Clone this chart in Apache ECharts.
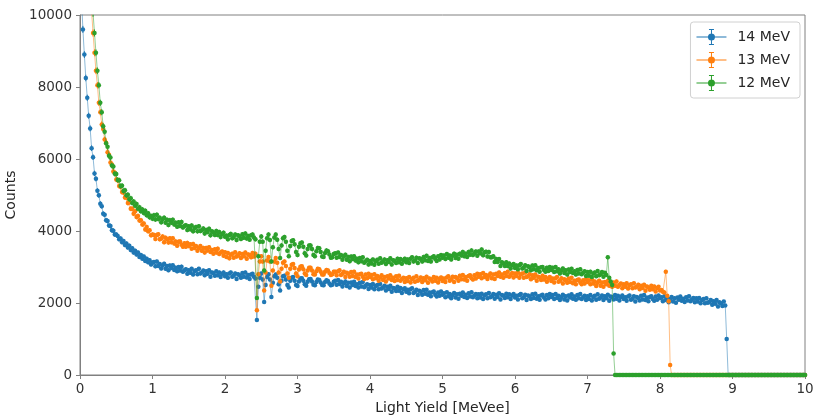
<!DOCTYPE html>
<html>
<head>
<meta charset="utf-8">
<script src="https://cdn.jsdelivr.net/npm/echarts@6/dist/echarts.min.js"></script>
<style>
html,body{margin:0;padding:0;background:#fff;}
#chart{width:814px;height:417px;}
</style>
</head>
<body>
<div id="chart"></div>
<script>
// Histogram bin width (MeVee); bin i is centred at (i+1)*binWidth
const binWidth = 0.02;
const seriesNames = ['14 MeV', '13 MeV', '12 MeV'];
const xTicks = [0, 1, 2, 3, 4, 5, 6, 7, 8, 9, 10];
const yTicks = [0, 2000, 4000, 6000, 8000, 10000];

const counts14 = [
 10500,9600,8900,8250,7700,7200,6850,6300,6050,5600,5450,5120,4990,4760,4690,4480,4450,4300,4280,4150,4140,4020,4010,3900,3900,
 3860,3770,3790,3690,3720,3610,3650,3540,3590,3470,3520,3400,3450,3350,3400,3280,3330,3230,3290,3170,3230,3130,3190,3070,3120,
 3140,3020,3150,3030,3080,2960,3040,3090,2950,3030,2910,3040,2970,3050,2920,2980,2880,3000,2900,3010,2870,2910,2940,2810,2910,
 2840,2950,2790,2890,2910,2800,2950,2820,2850,2900,2770,2880,2810,2910,2730,2850,2830,2760,2880,2770,2850,2720,2810,2850,2740,
 2800,2700,2820,2850,2730,2760,2820,2670,2800,2770,2700,2830,2730,2850,2710,2780,2670,2790,2810,2730,2680,1530,2450,2700,2820,
 2650,2030,2500,2720,2800,2650,2170,2560,2740,2790,2700,2520,2350,2620,2740,2760,2650,2500,2430,2620,2700,2720,2620,2500,2470,
 2600,2680,2690,2620,2520,2480,2590,2660,2670,2600,2510,2490,2580,2650,2640,2570,2500,2490,2580,2630,2610,2540,2490,2510,2590,
 2620,2510,2640,2530,2590,2460,2550,2600,2470,2560,2430,2570,2500,2590,2470,2520,2430,2560,2460,2580,2440,2480,2520,2390,2500,
 2430,2530,2380,2470,2500,2380,2530,2400,2430,2480,2350,2450,2390,2480,2310,2420,2400,2330,2450,2340,2420,2280,2380,2410,2310,
 2370,2270,2380,2410,2280,2310,2370,2220,2340,2310,2230,2360,2260,2370,2230,2290,2190,2300,2320,2230,2180,2290,2200,2320,2230,
 2270,2160,2300,2190,2250,2130,2220,2280,2150,2240,2120,2260,2200,2290,2170,2230,2140,2270,2180,2300,2160,2210,2250,2130,2240,
 2150,2260,2110,2210,2240,2130,2280,2160,2190,2250,2120,2230,2170,2270,2100,2220,2200,2140,2260,2160,2240,2110,2210,2250,2150,
 2200,2100,2220,2250,2130,2160,2230,2080,2210,2180,2110,2240,2140,2260,2120,2190,2090,2210,2230,2150,2100,2220,2130,2250,2170,
 2220,2110,2250,2140,2200,2080,2170,2230,2100,2190,2070,2210,2150,2240,2120,2180,2090,2220,2130,2250,2110,2160,2200,2080,2190,
 2110,2220,2070,2170,2200,2090,2240,2120,2150,2210,2080,2190,2130,2230,2060,2180,2160,2100,2220,2120,2200,2070,2170,2210,2110,
 2160,2060,2180,2210,2090,2120,2190,2040,2170,2140,2070,2200,2100,2220,2080,2150,2050,2170,2190,2110,2060,2180,2090,2210,2130,
 2160,2050,2190,2080,2140,2020,2110,2170,2040,2130,2010,2150,2090,2180,2060,2120,2030,2160,2070,2190,2050,2100,2140,2020,2130,
 2040,2140,1990,2080,2110,1990,2130,2010,2030,2080,1950,2050,1980,2080,1900,2020,1990,1920,2040,1930,1000,0,0,0,0,
 0,0,0,0,0,0,0,0,0,0,0,0,0,0,0,0,0,0,0,0,0,0,0,0,0,
 0,0,0,0,0,0,0,0,0,0,0,0,0,0,0,0,0,0,0,0,0,0,0,0,0
];

const counts13 = [
 16000,15000,14000,13000,12200,11400,10800,10100,9500,8950,8450,8050,7560,7300,6960,6830,6540,6450,6190,6120,5900,5850,5650,5620,5430,
 5410,5250,5230,5080,5070,4930,4930,4780,4800,4620,4620,4480,4550,4390,4420,4290,4300,4180,4210,4040,4110,3990,4020,3880,3900,
 3890,3780,3890,3910,3770,3790,3850,3690,3810,3770,3680,3800,3690,3800,3650,3710,3590,3700,3710,3620,3560,3660,3560,3670,3580,
 3630,3510,3640,3530,3580,3450,3530,3580,3450,3530,3400,3530,3460,3550,3420,3470,3370,3490,3400,3510,3360,3400,3430,3310,3410,
 3280,3390,3240,3340,3370,3260,3410,3290,3320,3380,3250,3360,3300,3400,3230,3350,3330,3270,3390,3290,3370,1800,2800,3150,3300,
 3150,2350,2850,3180,3280,3150,2480,2900,3150,3250,3120,2850,2600,2950,3120,3150,3030,2820,2700,2950,3060,3080,2970,2820,2740,
 2930,3010,3020,2940,2820,2780,2900,2980,2980,2900,2800,2790,2880,2950,2940,2870,2790,2790,2870,2920,2900,2830,2780,2800,2870,
 2870,2770,2880,2910,2780,2810,2870,2720,2840,2810,2730,2860,2750,2870,2720,2790,2680,2800,2810,2730,2670,2790,2690,2810,2720,
 2780,2660,2800,2690,2750,2620,2710,2770,2640,2720,2600,2740,2680,2770,2640,2700,2610,2740,2640,2760,2620,2670,2700,2580,2690,
 2610,2720,2570,2670,2700,2590,2740,2620,2650,2710,2580,2690,2630,2730,2560,2680,2660,2600,2720,2620,2700,2570,2670,2710,2610,
 2680,2580,2710,2740,2620,2660,2730,2580,2720,2690,2620,2760,2660,2780,2650,2720,2620,2750,2770,2690,2650,2770,2680,2810,2730,
 2800,2690,2830,2720,2780,2670,2760,2820,2690,2790,2670,2810,2750,2850,2730,2790,2700,2830,2750,2870,2730,2780,2830,2710,2820,
 2750,2850,2700,2790,2820,2700,2850,2720,2740,2800,2660,2770,2700,2790,2620,2730,2710,2640,2760,2650,2720,2590,2680,2720,2610,
 2680,2570,2690,2720,2590,2620,2690,2540,2660,2630,2560,2680,2580,2700,2550,2620,2520,2640,2650,2570,2520,2630,2540,2660,2580,
 2630,2520,2650,2540,2600,2470,2560,2620,2480,2570,2450,2580,2520,2610,2480,2540,2450,2570,2480,2600,2450,2500,2540,2410,2520,
 2450,2550,2400,2490,2520,2410,2550,2430,2450,2510,2380,2480,2420,2510,2340,2460,2430,2370,2480,2380,2460,2320,2420,2450,2350,
 2360,2310,2290,2870,2200,2050,280,0,0,0,0,0,0,0,0,0,0,0,0,0,0,0,0,0,0,
 0,0,0,0,0,0,0,0,0,0,0,0,0,0,0,0,0,0,0,0,0,0,0,0,0,
 0,0,0,0,0,0,0,0,0,0,0,0,0,0,0,0,0,0,0,0,0,0,0,0,0,
 0,0,0,0,0,0,0,0,0,0,0,0,0,0,0,0,0,0,0,0,0,0,0,0,0
];

const counts12 = [
 18000,16800,15600,14400,13300,12300,11400,10600,10050,9500,8950,8450,8050,7560,7300,6910,6760,6440,6340,6090,6040,5820,5790,5590,5580,
 5420,5410,5250,5260,5110,5130,4990,5010,4880,4910,4780,4820,4700,4750,4620,4660,4550,4600,4500,4560,4440,4490,4380,4420,4340,
 4440,4320,4450,4330,4370,4240,4320,4370,4230,4310,4170,4300,4230,4310,4180,4230,4120,4240,4140,4250,4100,4140,4160,4030,4130,
 4050,4150,3990,4080,4110,3990,4130,4000,4020,4070,3930,4030,3970,4060,3880,3990,3960,3890,4000,3890,3970,3830,3920,3950,3840,
 3870,3770,3890,3920,3800,3830,3900,3750,3880,3850,3780,3910,3810,3930,3790,3860,3760,3880,3900,3820,3770,2140,3300,3700,3850,
 3700,2900,3450,3800,3900,3750,3150,3550,3820,3900,3760,3500,3250,3600,3800,3830,3700,3450,3300,3580,3720,3740,3630,3420,3330,
 3560,3660,3680,3560,3380,3320,3500,3600,3600,3500,3330,3300,3440,3530,3520,3420,3290,3280,3390,3460,3440,3350,3260,3270,3360,
 3380,3260,3400,3280,3330,3200,3290,3340,3200,3280,3160,3290,3220,3300,3180,3230,3130,3250,3160,3270,3120,3160,3200,3070,3170,
 3100,3210,3060,3160,3200,3090,3240,3120,3150,3210,3080,3190,3140,3240,3070,3190,3170,3110,3230,3130,3220,3090,3190,3230,3130,
 3210,3110,3230,3270,3150,3180,3260,3110,3240,3220,3150,3280,3190,3310,3170,3250,3150,3270,3300,3220,3170,3300,3210,3330,3260,
 3320,3220,3360,3260,3320,3210,3310,3370,3250,3340,3230,3370,3320,3420,3300,3370,3280,3420,3340,3460,3330,3380,3430,3310,3430,
 3380,3485,3325,3410,3425,3295,3420,3270,3270,3300,3140,3225,3140,3220,3030,3135,3100,3025,3135,3025,3095,2955,3050,3080,2970,
 3040,2940,3050,3080,2960,2980,3050,2890,3020,2990,2910,3040,2940,3050,2910,2970,2870,2990,3000,2920,2870,2980,2890,3000,2920,
 2980,2860,3000,2880,2940,2820,2900,2960,2830,2910,2790,2930,2860,2950,2830,2880,2790,2920,2820,2940,2800,2840,2880,2750,2860,
 2760,2870,2720,2820,2850,2740,2890,2770,2800,2860,2730,2840,2780,3270,2700,2600,2500,600,0,0,0,0,0,0,0,
 0,0,0,0,0,0,0,0,0,0,0,0,0,0,0,0,0,0,0,0,0,0,0,0,0,
 0,0,0,0,0,0,0,0,0,0,0,0,0,0,0,0,0,0,0,0,0,0,0,0,0,
 0,0,0,0,0,0,0,0,0,0,0,0,0,0,0,0,0,0,0,0,0,0,0,0,0,
 0,0,0,0,0,0,0,0,0,0,0,0,0,0,0,0,0,0,0,0,0,0,0,0,0,
 0,0,0,0,0,0,0,0,0,0,0,0,0,0,0,0,0,0,0,0,0,0,0,0,0
];

const colors = ['#1f77b4', '#ff7f0e', '#2ca02c'];
const allCounts = [counts14, counts13, counts12];
allCounts.forEach((a, k) => { if (a.length !== 500) throw new Error('length ' + k + ' = ' + a.length); });

const binCentres = counts14.map((_, i) => +((i + 1) * binWidth).toFixed(2));

const icon = 'path://M0,9.4h30v1.2H0z M11.5,10a3.5,3.5 0 1,1 7,0a3.5,3.5 0 1,1 -7,0z M14.5,2h1v16h-1z M12.5,2h5v1h-5z M12.5,17h5v1h-5z';

const chart = echarts.init(document.getElementById('chart'), null, {renderer: 'canvas'});
const font = 'DejaVu Sans';

// Poisson (sqrt N) error bars, as in the source plot
function errorBarSeries(vals, k) {
  return {
    type: 'custom',
    name: seriesNames[k] + ' err',
    silent: true,
    clip: true,
    z: 2 + k,
    data: vals.map((v, i) => [binCentres[i], v - Math.sqrt(v), v + Math.sqrt(v)]),
    renderItem: function (params, api) {
      const lo = api.coord([api.value(0), api.value(1)]);
      const hi = api.coord([api.value(0), api.value(2)]);
      return {
        type: 'line',
        shape: {x1: lo[0], y1: lo[1], x2: hi[0], y2: hi[1]},
        style: {stroke: colors[k], lineWidth: 1}
      };
    }
  };
}

const series = [];
allCounts.forEach((vals, k) => {
  series.push(errorBarSeries(vals, k));
  series.push({
    name: seriesNames[k],
    type: 'line',
    clip: true,
    data: vals.map((v, i) => [binCentres[i], v]),
    symbol: 'circle',
    symbolSize: 4.5,
    showSymbol: true,
    showAllSymbol: true,
    lineStyle: {width: 1, color: colors[k], opacity: 0.5},
    itemStyle: {color: colors[k]},
    z: 2 + k
  });
});

chart.setOption({
  animation: false,
  backgroundColor: '#fff',
  color: colors,
  grid: {left: 80, right: 9, top: 15, bottom: 42, show: true, borderColor: '#808080', borderWidth: 1,
         backgroundColor: 'transparent', containLabel: false, outerBoundsMode: 'none'},
  legend: {
    orient: 'vertical', right: 14, top: 22,
    padding: [7, 10, 7, 6],
    itemWidth: 30, itemHeight: 16, itemGap: 7,
    borderColor: '#d0d0d0', borderWidth: 1, borderRadius: 3,
    textStyle: {fontFamily: font, fontSize: 14, color: '#262626', padding: [0, 0, 0, 6]},
    data: seriesNames.map(n => ({name: n, icon: icon}))
  },
  xAxis: {
    type: 'value', min: xTicks[0], max: xTicks[xTicks.length - 1], interval: 1,
    name: 'Light Yield [MeVee]', nameLocation: 'middle', nameGap: 24,
    nameTextStyle: {fontFamily: font, fontSize: 14, color: '#262626'},
    axisLine: {show: true, onZero: false, lineStyle: {color: '#808080', width: 1}},
    axisTick: {show: true, length: 4, lineStyle: {color: '#808080'}},
    axisLabel: {fontFamily: font, fontSize: 13.5, color: '#333', margin: 7, formatter: v => String(v)},
    splitLine: {show: false}
  },
  yAxis: {
    type: 'value', min: yTicks[0], max: yTicks[yTicks.length - 1], interval: 2000,
    name: 'Counts', nameLocation: 'middle', nameGap: 59,
    nameTextStyle: {fontFamily: font, fontSize: 14, color: '#262626'},
    axisLine: {show: true, lineStyle: {color: '#808080', width: 1}},
    axisTick: {show: true, length: 4, lineStyle: {color: '#808080'}},
    axisLabel: {fontFamily: font, fontSize: 13.5, color: '#333', margin: 8, formatter: v => String(v)},
    splitLine: {show: false}
  },
  series: series
});
</script>
</body>
</html>
